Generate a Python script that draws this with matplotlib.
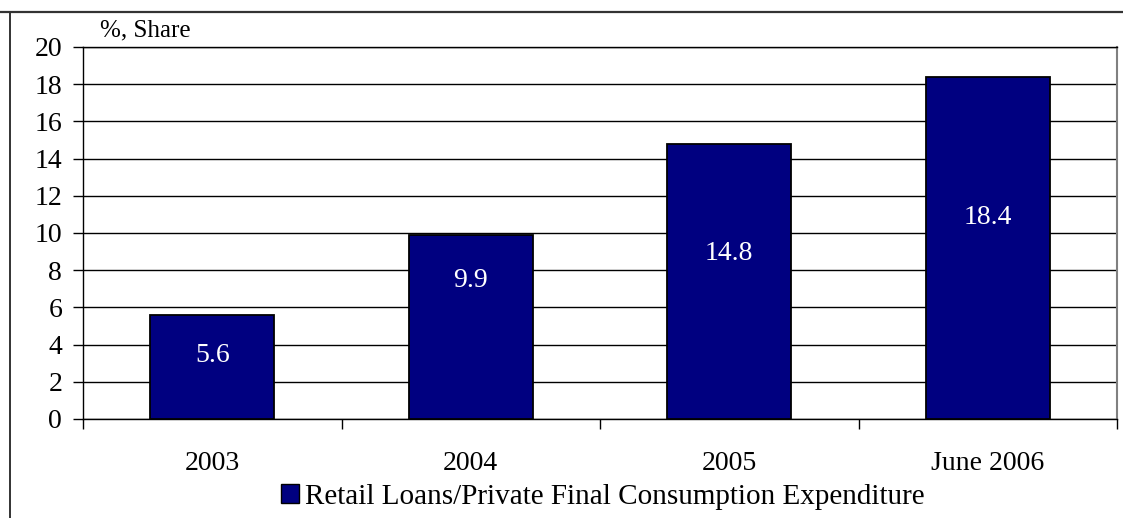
import matplotlib
matplotlib.use("Agg")
import matplotlib.pyplot as plt
from matplotlib.lines import Line2D
from matplotlib.patches import Patch
import numpy as np

# Data
categories = ["2003", "2004", "2005", "June 2006"]
values = [5.6, 9.9, 14.8, 18.4]
series_name = "Retail Loans/Private Final Consumption Expenditure"
y_ticks = [0, 2, 4, 6, 8, 10, 12, 14, 16, 18, 20]
y_unit = "%, Share"

# Vertical placement of each value label, as a fraction of bar height
label_frac = [0.61, 0.75, 0.60, 0.59]

plt.rcParams["font.family"] = ["Liberation Serif", "DejaVu Serif"]

W, H = 1123, 518
fig = plt.figure(figsize=(W / 100, H / 100), dpi=100)
fig.patch.set_facecolor("white")

ax = fig.add_axes([83 / W, 1 - 419 / H, (1117 - 83) / W, (419 - 47) / H])

x = np.arange(len(categories))
bars = ax.bar(x, values, width=0.48, color="#000080", edgecolor="black",
              linewidth=1.3, zorder=3)

for xi, v, f in zip(x, values, label_frac):
    ax.text(xi, v * f, f"{v:.1f}", ha="center", va="center",
            color="white", fontsize=20, zorder=4)

ax.set_xlim(-0.5, len(categories) - 0.5)
ax.set_ylim(0, 20)
ax.set_yticks(y_ticks)
ax.set_yticklabels([str(t) for t in y_ticks], fontsize=20)
ax.tick_params(axis="y", direction="out", length=7, width=1, pad=8)

# Category boundaries carry the tick marks; labels sit at category centres
ax.set_xticks(np.arange(-0.5, len(categories), 1.0))
ax.set_xticklabels([])
ax.set_xticks(x, minor=True)
ax.set_xticklabels(categories, minor=True, fontsize=20)
ax.tick_params(axis="x", which="major", direction="out", length=7, width=1)
ax.tick_params(axis="x", which="minor", length=0, pad=23)

ax.yaxis.grid(True, color="black", linewidth=1.0, zorder=1)
ax.set_axisbelow(True)
for side in ("left", "bottom", "top"):
    ax.spines[side].set_color("black")
    ax.spines[side].set_linewidth(1.0)
ax.spines["right"].set_color("#808080")
ax.spines["right"].set_linewidth(1.5)

ax.text(100 / W, 1 - 30 / H, y_unit, transform=fig.transFigure,
        ha="left", va="center", fontsize=18)

handle = Patch(facecolor="#000080", edgecolor="black", linewidth=1.0)
fig.legend([handle], [series_name], loc="center",
           bbox_to_anchor=(603 / W, 1 - 497 / H), frameon=False,
           fontsize=21, handlelength=0.62, handleheight=0.62,
           handletextpad=0.2, borderpad=0)

# Outer frame of the chart area
fig.add_artist(Line2D([0, 1], [1 - 12 / H, 1 - 12 / H], transform=fig.transFigure,
                      color="#333333", linewidth=1.6))
fig.add_artist(Line2D([10 / W, 10 / W], [0, 1 - 12 / H], transform=fig.transFigure,
                      color="#333333", linewidth=1.4))

fig.savefig("out.png", dpi=100, facecolor="white")
